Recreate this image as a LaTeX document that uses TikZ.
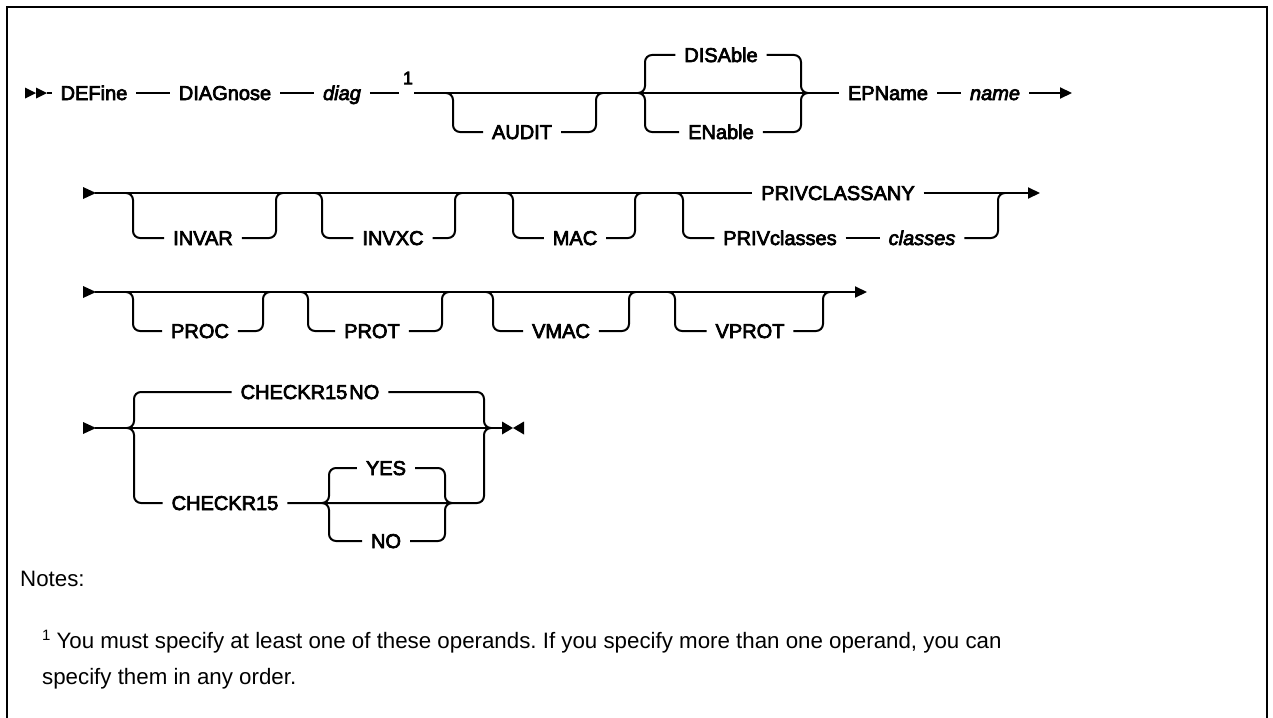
\documentclass[tikz,border=0pt]{standalone}
\usepackage{fontspec}
\setmainfont{Liberation Sans}
\newfontfamily\rrlf{Liberation Sans}[FakeBold=3.5]
\usetikzlibrary{arrows.meta}
\newcommand\rrlabelfont{\rrlf\fontsize{20}{24}\selectfont}
\newcommand\rrsupfont{\rrlf\fontsize{18}{20}\selectfont}
\newcommand\rrnotefont{\fontsize{22.3}{27}\selectfont}
\frenchspacing
\begin{document}
\begin{tikzpicture}[x=1pt,y=-1pt,
  rr/.style={line width=2pt, rounded corners=7pt},
  ln/.style={line width=2pt},
  lbl/.style={font=\rrlabelfont, inner sep=0pt, outer xsep=9pt, text height=14pt, text depth=0pt},
  var/.style={lbl, font=\rrlabelfont\itshape},
  arr/.style={ln, -{Triangle[length=12pt,width=11pt]}}]
\useasboundingbox (0,0) rectangle (1273,717);
% frame
\draw[line width=2pt] (7,740) -- (7,7) -- (1267,7) -- (1267,740);

% ---------- row 1 ----------
\fill (25,87.5) -- (36,93) -- (25,98.5) -- cycle;
\fill (36,87.5) -- (47,93) -- (36,98.5) -- cycle;
\coordinate (s1) at (47,93);
\node[lbl] (define) at (94,93) {DEFine};
\node[lbl] (diagnose) at (225,93) {DIAGnose};
\node[var] (diag) at (342,93) {diag};
\node[font=\rrsupfont, inner sep=0pt] (fnmark) at (408,78) {1};
\coordinate (fnl) at (399,93);
\coordinate (fnr) at (414,93);
\node[lbl] (audit) at (522,132) {AUDIT};
\node[lbl] (disable) at (721,55) {DISAble};
\node[lbl] (enable) at (721,132) {ENable};
\node[lbl] (epname) at (888,93) {EPName};
\node[var] (name) at (995,93) {name};
\coordinate (e1) at (1072,93);

\draw[ln] (s1) -- (define.west);
\draw[ln] (define.east) -- (diagnose.west);
\draw[ln] (diagnose.east) -- (diag.west);
\draw[ln] (diag.east) -- (fnl);
\draw[ln] (fnr) -- (epname.west);
\draw[rr] (446,93) -- (453,93) -- (453,132) -- (audit.west);
\draw[rr] (audit.east) -- (596,132) -- (596,93) -- (603,93);
\draw[rr] (638,93) -- (645,93) -- (645,55) -- (disable.west);
\draw[rr] (638,93) -- (645,93) -- (645,132) -- (enable.west);
\draw[rr] (disable.east) -- (801,55) -- (801,93) -- (808,93);
\draw[rr] (enable.east) -- (801,132) -- (801,93) -- (808,93);
\draw[ln] (epname.east) -- (name.west);
\draw[arr] (name.east) -- (e1);

% ---------- row 2 ----------
\fill (83,187) -- (96,193) -- (83,199) -- cycle;
\coordinate (s2) at (95,193);
\node[lbl] (privany) at (838,193) {PRIVCLASSANY};
\node[lbl] (invar) at (203,238) {INVAR};
\node[lbl] (invxc) at (393,238) {INVXC};
\node[lbl] (mac) at (575,238) {MAC};
\node[lbl] (privcl) at (780,238) {PRIVclasses};
\node[var] (classes) at (922,238) {classes};
\coordinate (e2) at (1040,193);
\draw[ln] (s2) -- (privany.west);
\draw[arr] (privany.east) -- (e2);
\draw[rr] (126,193) -- (133,193) -- (133,238) -- (invar.west);
\draw[rr] (invar.east) -- (276,238) -- (276,193) -- (283,193);
\draw[rr] (315,193) -- (322,193) -- (322,238) -- (invxc.west);
\draw[rr] (invxc.east) -- (455,238) -- (455,193) -- (462,193);
\draw[rr] (506,193) -- (513,193) -- (513,238) -- (mac.west);
\draw[rr] (mac.east) -- (635,238) -- (635,193) -- (642,193);
\draw[rr] (676,193) -- (683,193) -- (683,238) -- (privcl.west);
\draw[ln] (privcl.east) -- (classes.west);
\draw[rr] (classes.east) -- (998,238) -- (998,193) -- (1005,193);

% ---------- row 3 ----------
\fill (83,286) -- (96,292) -- (83,298) -- cycle;
\coordinate (s3) at (95,292);
\coordinate (e3) at (867,292);
\node[lbl] (proc) at (200,331) {PROC};
\node[lbl] (prot) at (372,331) {PROT};
\node[lbl] (vmac) at (561,331) {VMAC};
\node[lbl] (vprot) at (750,331) {VPROT};
\draw[arr] (s3) -- (e3);
\draw[rr] (126,292) -- (133,292) -- (133,331) -- (proc.west);
\draw[rr] (proc.east) -- (263,331) -- (263,292) -- (270,292);
\draw[rr] (301,292) -- (308,292) -- (308,331) -- (prot.west);
\draw[rr] (prot.east) -- (442,331) -- (442,292) -- (449,292);
\draw[rr] (486,292) -- (493,292) -- (493,331) -- (vmac.west);
\draw[rr] (vmac.east) -- (629,331) -- (629,292) -- (636,292);
\draw[rr] (668,292) -- (675,292) -- (675,331) -- (vprot.west);
\draw[rr] (vprot.east) -- (823,331) -- (823,292) -- (830,292);

% ---------- row 4 ----------
\fill (83,422) -- (96,428) -- (83,434) -- cycle;
\coordinate (s4) at (95,428);
\coordinate (e4) at (502,428);
\fill (502,421.5) -- (513,428) -- (502,434.5) -- cycle;
\fill (524,421.5) -- (513,428) -- (524,434.5) -- cycle;
\node[lbl] (ckno) at (310,392) {CHECKR15\hspace{2pt}NO};
\node[lbl] (ck) at (225,503) {CHECKR15};
\node[lbl] (yes) at (386,468) {YES};
\node[lbl] (no) at (386,541) {NO};
\draw[ln] (s4) -- (e4);
\draw[rr] (127,428) -- (134,428) -- (134,392) -- (ckno.west);
\draw[rr] (127,428) -- (134,428) -- (134,503) -- (ck.west);
\draw[rr] (ckno.east) -- (484,392) -- (484,428) -- (491,428);
\draw[rr] (ck.east) -- (484,503) -- (484,428) -- (491,428);
\draw[rr] (322,503) -- (329,503) -- (329,468) -- (yes.west);
\draw[rr] (322,503) -- (329,503) -- (329,541) -- (no.west);
\draw[rr] (yes.east) -- (445,468) -- (445,503) -- (452,503);
\draw[rr] (no.east) -- (445,541) -- (445,503) -- (452,503);

% ---------- notes ----------
\node[anchor=base west, font=\rrnotefont, inner sep=0pt] (notes) at (20,586) {Notes:};
\node[anchor=base west, font=\rrnotefont, inner sep=0pt] (fn1) at (42,648)
  {\raisebox{8pt}{\fontsize{15}{15}\selectfont 1}\hspace{6pt}You must specify at least one of these operands. If you specify more than one operand, you can};
\node[anchor=base west, font=\rrnotefont, inner sep=0pt] (fn2) at (42,684) {specify them in any order.};
\end{tikzpicture}
\end{document}
